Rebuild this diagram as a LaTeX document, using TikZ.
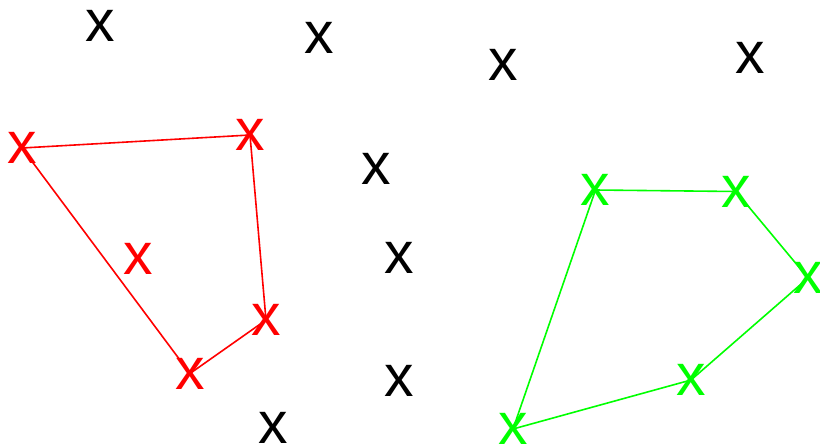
\documentclass[tikz,border=0pt]{standalone}
\usepackage{fontspec}
\setmainfont{Liberation Sans}
\definecolor{pgreen}{RGB}{0,255,0}
\definecolor{pred}{RGB}{255,0,0}
\tikzset{
  xglyph/.style={inner sep=0pt, outer sep=0pt, font=\fontsize{59}{59}\selectfont},
  blk/.style={xglyph, text=black},
  redx/.style={xglyph, text=pred},
  grnx/.style={xglyph, text=pgreen},
  redline/.style={draw=pred, line width=1.6pt},
  grnline/.style={draw=pgreen, line width=1.6pt}
}
\begin{document}
\begin{tikzpicture}[x=1pt, y=-1pt]
\useasboundingbox (0,0) rectangle (820,445);
% black marks
\node[blk] (k1) at (100.5,26) {x};
\node[blk] (k2) at (319.5,37.5) {x};
\node[blk] (k3) at (503,65) {x};
\node[blk] (k4) at (750,58) {x};
\node[blk] (k5) at (376,169) {x};
\node[blk] (k6) at (399,258) {x};
\node[blk] (k7) at (399,381) {x};
\node[blk] (k8) at (273,428) {x};
% red
\node[redx] (r1) at (22,148) {x};
\node[redx] (r2) at (250,135) {x};
\node[redx] (r3) at (138.5,259) {x};
\node[redx] (r4) at (266,320) {x};
\node[redx] (r5) at (190,373.5) {x};
\draw[redline] (r1.center) -- (r2.center) -- (r4.center) -- (r5.center) -- (r1.center);
% green
\node[grnx] (g1) at (595.5,190) {x};
\node[grnx] (g2) at (736,191.5) {x};
\node[grnx] (g3) at (808,278) {x};
\node[grnx] (g4) at (691,380) {x};
\node[grnx] (g5) at (513,429) {x};
\draw[grnline] (g1.center) -- (g2.center) -- (g3.center) -- (g4.center) -- (g5.center) -- (g1.center);
\end{tikzpicture}
\end{document}
